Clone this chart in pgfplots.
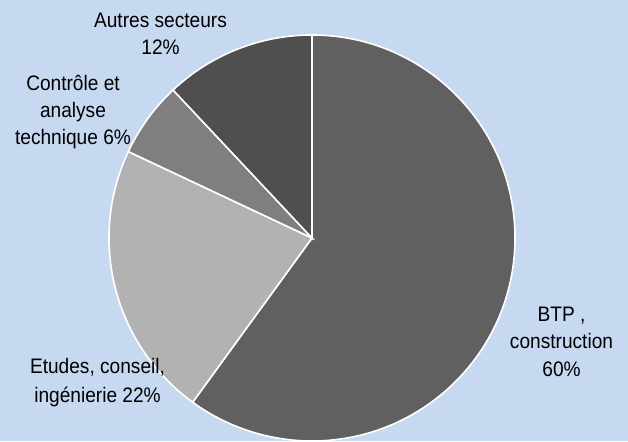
\documentclass[border=0pt]{standalone}
\usepackage{pgfplots}
\pgfplotsset{compat=1.18}
\usepackage{fontspec}
\setmainfont[FakeStretch=0.91]{Liberation Sans}
\definecolor{bg}{RGB}{198,217,240}
\definecolor{cBTP}{RGB}{96,96,96}
\definecolor{cEtu}{RGB}{178,178,178}
\definecolor{cCon}{RGB}{127,127,127}
\definecolor{cAut}{RGB}{79,79,79}
\begin{document}
\begin{tikzpicture}
\begin{axis}[hide axis, scale only axis, width=628bp, height=441bp,
  xmin=0, xmax=628, ymin=0, ymax=441, clip=false]
\fill[bg] (axis cs:0,0) rectangle (axis cs:628,441);
% shares: BTP 60, Etudes 22, Controle 6, Autres 12 (clockwise from 12 o'clock)
\addplot[fill=cBTP, draw=white, line width=1.6bp] coordinates {(312,203) (312,406)}
  arc[start angle=90, delta angle={-3.6*60}, radius=203bp] -- cycle;
\addplot[fill=cEtu, draw=white, line width=1.6bp] coordinates {(312,203) (192.68,38.77)}
  arc[start angle={90-3.6*60}, delta angle={-3.6*22}, radius=203bp] -- cycle;
\addplot[fill=cCon, draw=white, line width=1.6bp] coordinates {(312,203) (128.33,289.44)}
  arc[start angle={90-3.6*82}, delta angle={-3.6*6}, radius=203bp] -- cycle;
\addplot[fill=cAut, draw=white, line width=1.6bp] coordinates {(312,203) (173.04,350.99)}
  arc[start angle={90-3.6*88}, delta angle={-3.6*12}, radius=203bp] -- cycle;
\begin{scope}[every node/.style={anchor=base, inner sep=0pt, font=\fontsize{21bp}{27bp}\selectfont}]
\node at (axis cs:160.5,413.3) {Autres secteurs};
\node at (axis cs:160.5,386) {12\%};
\node at (axis cs:73,350.5) {Contrôle et};
\node at (axis cs:73,323) {analyse};
\node at (axis cs:73,296) {technique 6\%};
\node at (axis cs:97.5,68) {Etudes, conseil,};
\node at (axis cs:97.5,39) {ingénierie 22\%};
\node at (axis cs:561.5,119.3) {BTP ,};
\node at (axis cs:561.5,92) {construction};
\node at (axis cs:561.5,64.5) {60\%};
\end{scope}
\end{axis}
\end{tikzpicture}
\end{document}
